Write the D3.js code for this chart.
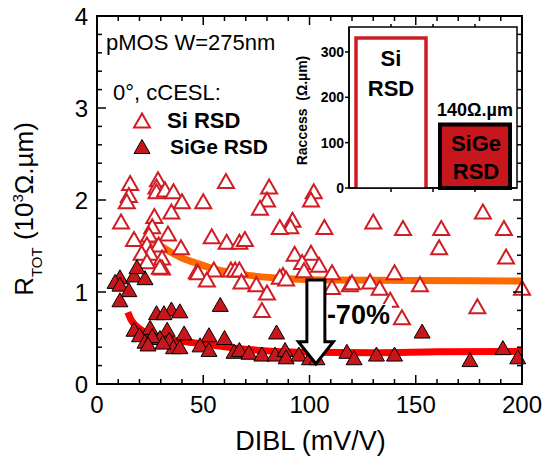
<!DOCTYPE html>
<html><head><meta charset="utf-8">
<script src="https://cdn.jsdelivr.net/npm/d3@7"></script>
<style>html,body{margin:0;padding:0;background:#fff;}svg{display:block;font-family:"Liberation Sans",Arial,sans-serif;}</style>
</head><body>
<script>
// ---------- data ----------
const xTicks = [0, 50, 100, 150, 200];
const yTicks = [0, 1, 2, 3, 4];
const xMinorTicks = d3.range(0, 201, 10);
const yMinorTicks = d3.range(0, 4.01, 0.2);

// Si RSD (open triangles): [DIBL mV/V, RTOT 10^3 ohm.um]
const siRSD = [
  [15.6,2.18],[15,2.05],[14,1.98],[28.7,2.22],[28,2.14],[28,2.09],[32,2.11],[36,2.09],[40,1.98],[50,1.98],
  [60.7,2.2],[11.3,1.76],[27,1.82],[35,1.87],[26,1.71],[33.4,1.63],[17.4,1.57],[24.5,1.62],[23.5,1.51],[29,1.51],
  [39.5,1.48],[54,1.6],[61,1.54],[67,1.54],[25,1.42],[21,1.42],[30.6,1.37],[23.5,1.33],[30.6,1.26],[29.6,1.27],
  [47,1.22],[47.5,1.21],[55,1.24],[63,1.24],[65,1.24],[67,1.24],[51.7,1.13],[75,1.08],[80,0.99],[77.6,0.8],
  [81,2.14],[80,2.0],[76.7,1.91],[102,2.09],[100.7,2.0],[92,1.78],[91,1.71],[86,1.7],[107,1.7],[130,1.76],
  [69.6,1.57],[93,1.41],[100.7,1.42],[96.5,1.32],[104.5,1.29],[97.4,1.23],[110.6,1.21],[87.5,1.18],
  [181.6,1.87],[144,1.69],[162,1.69],[191.5,1.69],[161,1.48],[192.5,1.38],[140,1.21],[152,1.08],[119,1.08],
  [128.5,1.11],[133,1.04],[138,0.91],[143.5,0.72],[179,0.84],[200,1.04],[68,1.11],[86,1.16],[89,1.14],[120,1.1],
  [110.6,1.05]
];
// SiGe RSD (filled triangles)
const sigeRSD = [
  [10.8,1.16],[17.4,1.18],[22.6,1.15],[18.8,1.27],[8.5,1.11],[10.8,1.08],[15,1.02],[10.8,0.91],[58,0.86],[28,0.77],
  [35,0.81],[39,0.79],[31.5,0.77],[17.4,0.59],[25,0.61],[33,0.59],[41,0.55],[20,0.53],[22.6,0.46],[29.6,0.5],
  [34,0.48],[36,0.4],[39,0.4],[26,0.52],[31,0.45],[24,0.43],[52.7,0.53],[60,0.5],[48.5,0.42],[52.7,0.37],
  [64.5,0.35],[67,0.37],[71.5,0.34],[77.6,0.32],[83.8,0.32],[84.5,0.56],[88.5,0.37],[89,0.29],[95,0.32],[100,0.28],
  [103.5,0.28],[117.6,0.35],[121,0.28],[131.5,0.32],[140,0.32],[153,0.57],[175.5,0.26],[191,0.39],[198,0.29]
];
// fitted trend lines
const siFit = [[26,1.57],[30,1.50],[35,1.43],[40,1.37],[46,1.32],[55,1.25],[63,1.21],[75,1.17],[90,1.145],[110,1.13],[150,1.125],[200,1.12]];
const sigeFit = [[14.5,0.78],[16,0.70],[18,0.64],[22,0.57],[28,0.52],[36,0.48],[45,0.45],[55,0.42],[65,0.39],[80,0.36],[100,0.345],[130,0.34],[160,0.35],[200,0.355]];
// arrow: DIBL position, from / to RTOT
const arrowDibl = 103, arrowFrom = 1.13, arrowTo = 0.22;
const reductionLabel = "-70%";

// inset
const insetCats = ["Si", "SiGe"];
const insetPos = [1, 3];
const insetVals = [331, 140];
const insetYTicks = [0, 100, 200, 300];
const insetXTicks = [1, 2, 3];

// ---------- drawing ----------
const W = 548, H = 459;
const svg = d3.select("body").append("svg").attr("width", W).attr("height", H);
const L = 97, R = 522, T = 16, B = 384;
const x = d3.scaleLinear().domain([0, 200]).range([L, R]);
const y = d3.scaleLinear().domain([0, 4]).range([B, T]);

const red = "#d01c24", fillRed = "#c8161d";
const tri = "M0,-7.5L8,6.5L-8,6.5Z";

// fit lines
const line = d3.line().x(d => x(d[0])).y(d => y(d[1])).curve(d3.curveMonotoneX);
svg.append("path").attr("d", line(siFit)).attr("fill", "none").attr("stroke", "#ff6a00").attr("stroke-width", 7);
svg.append("path").attr("d", line(sigeFit)).attr("fill", "none").attr("stroke", "#ff0000").attr("stroke-width", 7);

// points
svg.append("g").selectAll("path").data(siRSD).join("path")
  .attr("d", tri).attr("transform", d => `translate(${x(d[0])},${y(d[1])})`)
  .attr("fill", "#fff").attr("stroke", red).attr("stroke-width", 2);
svg.append("g").selectAll("path").data(sigeRSD).join("path")
  .attr("d", tri).attr("transform", d => `translate(${x(d[0])},${y(d[1])})`)
  .attr("fill", fillRed).attr("stroke", "#000").attr("stroke-width", 1);

// arrow
{
  const cx = x(arrowDibl), top = y(arrowFrom), tip = y(arrowTo);
  const sw = 9, hw = 17.5, hh = 22;
  const p = d3.path();
  p.moveTo(cx - sw, top); p.lineTo(cx + sw, top); p.lineTo(cx + sw, tip - hh); p.lineTo(cx + hw, tip - hh);
  p.lineTo(cx, tip); p.lineTo(cx - hw, tip - hh); p.lineTo(cx - sw, tip - hh); p.closePath();
  svg.append("path").attr("d", p.toString()).attr("fill", "#fff").attr("stroke", "#000").attr("stroke-width", 3).attr("stroke-linejoin", "miter");
  const t = svg.append("text").attr("x", cx + 11).attr("y", 324).attr("font-size", 27).attr("font-weight", "bold").text(reductionLabel);
  const bb = t.node().getBBox();
  svg.insert("rect", () => t.node()).attr("x", bb.x).attr("y", bb.y + 4).attr("width", bb.width + 2).attr("height", bb.height - 6).attr("fill", "#fff");
}

// main frame & ticks
const ax = svg.append("g").attr("stroke", "#000").attr("stroke-width", 1.5);
xMinorTicks.forEach(v => {
  const len = xTicks.includes(v) ? 9 : 5;
  ax.append("line").attr("x1", x(v)).attr("x2", x(v)).attr("y1", B).attr("y2", B - len);
  ax.append("line").attr("x1", x(v)).attr("x2", x(v)).attr("y1", T).attr("y2", T + len);
});
yMinorTicks.forEach(v => {
  const major = Math.abs(v - Math.round(v)) < 1e-6;
  const len = major ? 9 : 5;
  ax.append("line").attr("y1", y(v)).attr("y2", y(v)).attr("x1", L).attr("x2", L + len);
  ax.append("line").attr("y1", y(v)).attr("y2", y(v)).attr("x1", R).attr("x2", R - len);
});
svg.append("rect").attr("x", L).attr("y", T).attr("width", R - L).attr("height", B - T)
  .attr("fill", "none").attr("stroke", "#000").attr("stroke-width", 2);

// tick labels
svg.append("g").selectAll("text").data(xTicks).join("text")
  .attr("x", d => x(d)).attr("y", 413).attr("text-anchor", "middle").attr("font-size", 24).text(d => d);
svg.append("g").selectAll("text").data(yTicks).join("text")
  .attr("x", 88).attr("y", d => y(d) + 8.5).attr("text-anchor", "end").attr("font-size", 24).text(d => d);

// axis titles
svg.append("text").attr("x", (L + R) / 2 + 1).attr("y", 450).attr("text-anchor", "middle").attr("font-size", 27).text("DIBL (mV/V)");
{
  const yl = svg.append("text").attr("transform", "translate(33,209) rotate(-90)").attr("text-anchor", "middle").attr("font-size", 26);
  yl.append("tspan").text("R");
  yl.append("tspan").attr("font-size", 15).attr("dy", 9).text("TOT");
  yl.append("tspan").attr("dy", -9).text(" (10");
  yl.append("tspan").attr("font-size", 15).attr("dy", -10).text("3");
  yl.append("tspan").attr("dy", 10).text("Ω.µm)");
}

// annotations / legend
svg.append("text").attr("x", 106).attr("y", 50).attr("font-size", 22).text("pMOS W=275nm");
svg.append("text").attr("x", 113).attr("y", 100).attr("font-size", 22).text("0°, cCESL:");
svg.append("path").attr("d", tri).attr("transform", "translate(142,121)").attr("fill", "#fff").attr("stroke", red).attr("stroke-width", 2);
svg.append("path").attr("d", tri).attr("transform", "translate(142,147)").attr("fill", fillRed).attr("stroke", "#000").attr("stroke-width", 1);
svg.append("text").attr("x", 167).attr("y", 128).attr("font-size", 22).attr("font-weight", "bold").text("Si RSD");
svg.append("text").attr("x", 170).attr("y", 154).attr("font-size", 21).attr("font-weight", "bold").text("SiGe RSD");

// ---------- inset ----------
const ix = d3.scaleLinear().domain([0, 4]).range([349, 517]);
const iy = d3.scaleLinear().domain([0, 355]).range([188, 27]);
const ins = svg.append("g");
ins.append("rect").attr("x", ix(0)).attr("y", iy(355)).attr("width", ix(4) - ix(0)).attr("height", iy(0) - iy(355))
  .attr("fill", "#fff").attr("stroke", "#000").attr("stroke-width", 1.5);
const bw = 35;
// Si bar
ins.append("path").attr("d", `M${ix(insetPos[0]) - bw},${iy(0)}V${iy(insetVals[0])}H${ix(insetPos[0]) + bw}V${iy(0)}`)
  .attr("fill", "#fff").attr("stroke", red).attr("stroke-width", 3.5);
// SiGe bar
ins.append("rect").attr("x", ix(insetPos[1]) - bw).attr("y", iy(insetVals[1])).attr("width", 2 * bw).attr("height", iy(0) - iy(insetVals[1]))
  .attr("fill", fillRed).attr("stroke", "#000").attr("stroke-width", 4);
// inset axis
const iax = ins.append("g").attr("stroke", "#000").attr("stroke-width", 1.5);
iax.append("line").attr("x1", ix(0)).attr("x2", ix(4)).attr("y1", iy(0)).attr("y2", iy(0));
iax.append("line").attr("x1", ix(0)).attr("x2", ix(0)).attr("y1", iy(0)).attr("y2", iy(355));
insetYTicks.forEach(v => iax.append("line").attr("x1", ix(0) - 4).attr("x2", ix(0)).attr("y1", iy(v)).attr("y2", iy(v)));
insetXTicks.forEach(v => {
  iax.append("line").attr("x1", ix(v)).attr("x2", ix(v)).attr("y1", iy(0)).attr("y2", iy(0) + 4);
  iax.append("line").attr("x1", ix(v)).attr("x2", ix(v)).attr("y1", iy(355)).attr("y2", iy(355) - 3);
});
ins.append("g").selectAll("text").data(insetYTicks).join("text")
  .attr("x", ix(0) - 5).attr("y", d => iy(d) + 5).attr("text-anchor", "end").attr("font-size", 14).attr("font-weight", "bold").text(d => d);
ins.append("text").attr("transform", `translate(307,${(iy(0) + iy(355)) / 2 + 3}) rotate(-90)`).attr("text-anchor", "middle")
  .attr("font-size", 14).attr("font-weight", "bold").attr("xml:space", "preserve").text("Raccess  (Ω.µm)");
// bar labels
ins.append("text").attr("x", ix(insetPos[0])).attr("y", 66).attr("text-anchor", "middle").attr("font-size", 22).attr("font-weight", "bold").text(insetCats[0]);
ins.append("text").attr("x", ix(insetPos[0])).attr("y", 96).attr("text-anchor", "middle").attr("font-size", 22).attr("font-weight", "bold").text("RSD");
ins.append("text").attr("x", ix(insetPos[1]) + 1).attr("y", 151).attr("text-anchor", "middle").attr("font-size", 22).attr("font-weight", "bold").text(insetCats[1]);
ins.append("text").attr("x", ix(insetPos[1]) + 1).attr("y", 179).attr("text-anchor", "middle").attr("font-size", 22).attr("font-weight", "bold").text("RSD");
ins.append("text").attr("x", ix(insetPos[1])).attr("y", 116).attr("text-anchor", "middle").attr("font-size", 18).attr("font-weight", "bold").text(insetVals[1] + "Ω.µm");
</script>
</body></html>
